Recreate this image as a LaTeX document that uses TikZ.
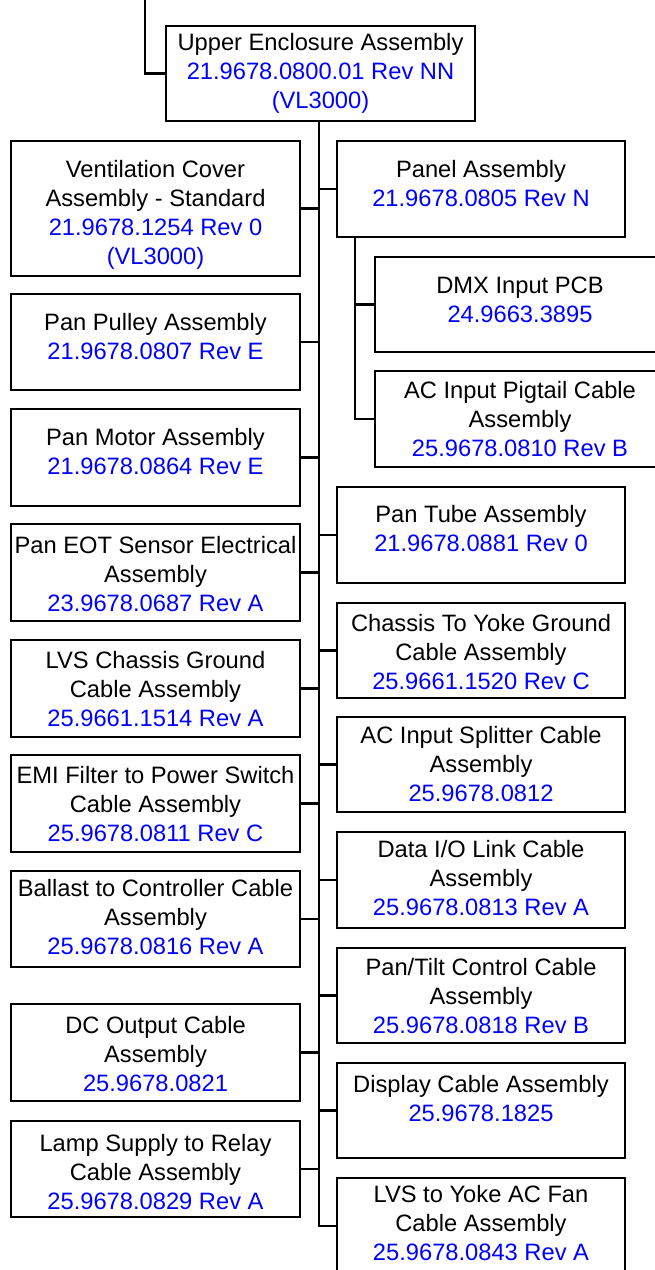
\documentclass[tikz,border=0pt]{standalone}
\usepackage{fontspec}
\setmainfont{Liberation Sans}
\definecolor{pn}{RGB}{0,0,255}
\tikzset{
  box/.style={draw, rectangle, line width=2.8pt, inner sep=0pt, outer sep=0pt, anchor=north west},
  lbl/.style={anchor=north, align=center, inner sep=0pt, font=\fontsize{23.7}{29}\selectfont, text=black},
  wire/.style={line width=2.8pt}
}
\begin{document}
\begin{tikzpicture}[x=1pt,y=-1pt]
\useasboundingbox (0,0) rectangle (654,1270);
% boxes
\node[box, minimum width=309pt, minimum height=95pt] (up) at (166,26) {};
\node[box, minimum width=289pt, minimum height=135pt] (vent) at (11,141) {};
\node[box, minimum width=288pt, minimum height=96pt] (panel) at (337,141) {};
\node[box, minimum width=290pt, minimum height=95pt] (dmx) at (375,257) {};
\node[box, minimum width=290pt, minimum height=96pt] (pig) at (375,371) {};
\node[box, minimum width=289pt, minimum height=96pt] (pulley) at (11,294) {};
\node[box, minimum width=289pt, minimum height=97pt] (motor) at (11,409) {};
\node[box, minimum width=288pt, minimum height=96pt] (tube) at (337,487) {};
\node[box, minimum width=289pt, minimum height=97pt] (eot) at (11,524) {};
\node[box, minimum width=288pt, minimum height=95pt] (chassis) at (337,603) {};
\node[box, minimum width=289pt, minimum height=97pt] (lvsch) at (11,640) {};
\node[box, minimum width=288pt, minimum height=95pt] (split) at (337,717) {};
\node[box, minimum width=289pt, minimum height=97pt] (emi) at (11,755) {};
\node[box, minimum width=288pt, minimum height=96pt] (data) at (337,832) {};
\node[box, minimum width=289pt, minimum height=96pt] (ballast) at (11,871) {};
\node[box, minimum width=288pt, minimum height=95pt] (pantilt) at (337,948) {};
\node[box, minimum width=289pt, minimum height=97pt] (dc) at (11,1004) {};
\node[box, minimum width=288pt, minimum height=95pt] (display) at (337,1063) {};
\node[box, minimum width=289pt, minimum height=96pt] (lamp) at (11,1121) {};
\node[box, minimum width=288pt, minimum height=96pt] (lvsfan) at (337,1178) {};
% labels
\node[lbl] (upT) at ([yshift=-3.7pt]up.north) {\strut Upper Enclosure Assembly\\\textcolor{pn}{21.9678.0800.01 Rev NN}\\\textcolor{pn}{(VL3000)}};
\node[lbl] (ventT) at ([yshift=-15.7pt]vent.north) {\strut Ventilation Cover\\Assembly - Standard\\\textcolor{pn}{21.9678.1254 Rev 0}\\\textcolor{pn}{(VL3000)}};
\node[lbl] (panelT) at ([yshift=-15.7pt]panel.north) {\strut Panel Assembly\\\textcolor{pn}{21.9678.0805 Rev N}};
\node[lbl] (dmxT) at ([yshift=-15.7pt]dmx.north) {\strut DMX Input PCB\\\textcolor{pn}{24.9663.3895}};
\node[lbl] (pigT) at ([yshift=-6.7pt]pig.north) {\strut AC Input Pigtail Cable\\Assembly\\\textcolor{pn}{25.9678.0810 Rev B}};
\node[lbl] (pulleyT) at ([yshift=-15.7pt]pulley.north) {\strut Pan Pulley Assembly\\\textcolor{pn}{21.9678.0807 Rev E}};
\node[lbl] (motorT) at ([yshift=-15.7pt]motor.north) {\strut Pan Motor Assembly\\\textcolor{pn}{21.9678.0864 Rev E}};
\node[lbl] (tubeT) at ([yshift=-14.7pt]tube.north) {\strut Pan Tube Assembly\\\textcolor{pn}{21.9678.0881 Rev 0}};
\node[lbl] (eotT) at ([yshift=-8.7pt]eot.north) {\strut Pan EOT Sensor Electrical\\Assembly\\\textcolor{pn}{23.9678.0687 Rev A}};
\node[lbl] (chassisT) at ([yshift=-7.7pt]chassis.north) {\strut Chassis To Yoke Ground\\Cable Assembly\\\textcolor{pn}{25.9661.1520 Rev C}};
\node[lbl] (lvschT) at ([yshift=-7.7pt]lvsch.north) {\strut LVS Chassis Ground\\Cable Assembly\\\textcolor{pn}{25.9661.1514 Rev A}};
\node[lbl] (splitT) at ([yshift=-5.7pt]split.north) {\strut AC Input Splitter Cable\\Assembly\\\textcolor{pn}{25.9678.0812}};
\node[lbl] (emiT) at ([yshift=-7.7pt]emi.north) {\strut EMI Filter to Power Switch\\Cable Assembly\\\textcolor{pn}{25.9678.0811 Rev C}};
\node[lbl] (dataT) at ([yshift=-4.7pt]data.north) {\strut Data I/O Link Cable\\Assembly\\\textcolor{pn}{25.9678.0813 Rev A}};
\node[lbl] (ballastT) at ([yshift=-4.7pt]ballast.north) {\strut Ballast to Controller Cable\\Assembly\\\textcolor{pn}{25.9678.0816 Rev A}};
\node[lbl] (pantiltT) at ([yshift=-6.7pt]pantilt.north) {\strut Pan/Tilt Control Cable\\Assembly\\\textcolor{pn}{25.9678.0818 Rev B}};
\node[lbl] (dcT) at ([yshift=-8.7pt]dc.north) {\strut DC Output Cable\\Assembly\\\textcolor{pn}{25.9678.0821}};
\node[lbl] (displayT) at ([yshift=-8.7pt]display.north) {\strut Display Cable Assembly\\\textcolor{pn}{25.9678.1825}};
\node[lbl] (lampT) at ([yshift=-9.7pt]lamp.north) {\strut Lamp Supply to Relay\\Cable Assembly\\\textcolor{pn}{25.9678.0829 Rev A}};
\node[lbl] (lvsfanT) at ([yshift=-3.7pt]lvsfan.north) {\strut LVS to Yoke AC Fan\\Cable Assembly\\\textcolor{pn}{25.9678.0843 Rev A}};
% connectors
\coordinate (topin) at (145,0);
\coordinate (trunk) at ([xshift=-1.5pt]up.south);
\draw[wire] (topin) |- (up.west);
\draw[wire] (trunk) -- (trunk |- lvsfan.west) -- (lvsfan.west);
\foreach \n in {vent,pulley,motor,eot,lvsch,emi,ballast,dc,lamp}
  \draw[wire] (\n.east) -- (\n.east -| trunk);
\foreach \n in {panel,tube,chassis,split,data,pantilt,display}
  \draw[wire] (trunk |- \n.west) -- (\n.west);
\coordinate (sub) at ([xshift=18pt]panel.south west);
\draw[wire] (sub) |- (pig.west);
\draw[wire] (sub |- dmx.west) -- (dmx.west);
\end{tikzpicture}
\end{document}
